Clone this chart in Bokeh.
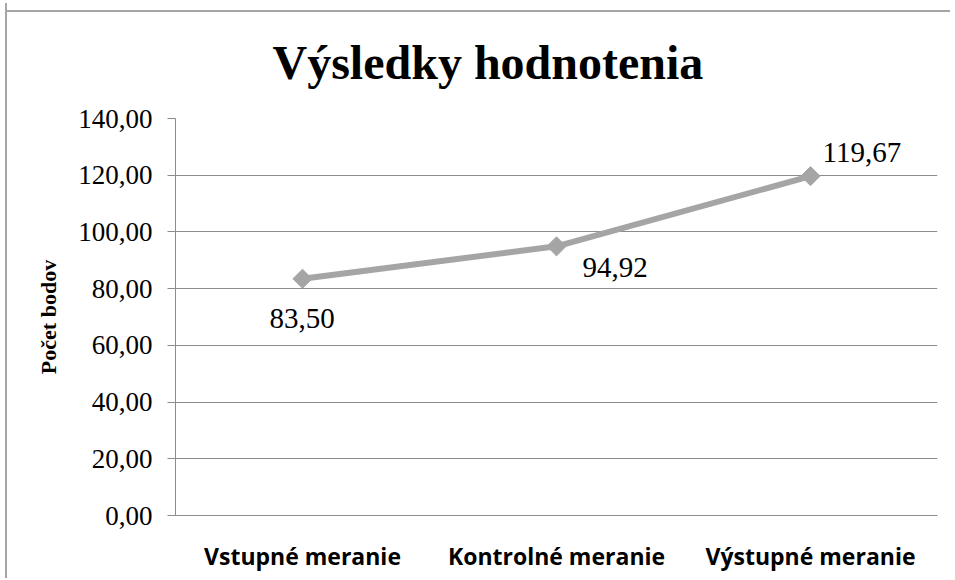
from bokeh.plotting import figure
from bokeh.models import FactorRange, Range1d, CustomJSTickFormatter, ColumnDataSource, FixedTicker
from bokeh.core.properties import value
from bokeh.embed import file_html
from bokeh.resources import INLINE
import numpy as np

# ---- data ----
categories = ["Vstupné meranie", "Kontrolné meranie", "Výstupné meranie"]
scores = [83.50, 94.92, 119.67]
y_ticks = [0, 20, 40, 60, 80, 100, 120, 140]
title_text = "Výsledky hodnotenia"
y_label = "Počet bodov"

# ---- label placement (styling, pixels) ----
label_dx = [-33, 26, 12]
label_dy = [40, 21, -24]

labels = [f"{v:.2f}".replace(".", ",") for v in scores]
src = ColumnDataSource(dict(cat=categories, val=scores, lab=labels, dx=label_dx, dy=label_dy))

SERIF = "Liberation Serif"
GRID = "#8c8c8c"
LINE = "#a5a5a5"
FRAME = "#a6a6a6"

p = figure(width=945, height=575, x_range=FactorRange(*categories, range_padding=0),
           y_range=Range1d(0, 140), output_backend="svg", toolbar_location=None,
           min_border_left=168, min_border_right=15, min_border_top=40, min_border_bottom=63,
           border_fill_color=None, background_fill_color="white")
p.styles = {"border-left": f"2px solid {FRAME}", "margin-left": "5px", "margin-top": "3px",
            "background": f"linear-gradient({FRAME},{FRAME}) 0 7px / 100% 2px no-repeat, white"}

p.title.text = title_text
p.title.text_font = SERIF
p.title.text_font_size = "48px"
p.title.text_font_style = "bold"
p.title.align = "left"
p.title.offset = 97
p.title.standoff = 60
p.title.text_color = "black"

p.outline_line_color = None
p.xgrid.grid_line_color = None
p.ygrid.grid_line_color = GRID
p.ygrid.grid_line_width = 1

p.yaxis.ticker = FixedTicker(ticks=y_ticks)
p.yaxis.formatter = CustomJSTickFormatter(code="return tick.toFixed(2).replace('.', ',');")
p.yaxis.axis_line_color = GRID
p.yaxis.major_tick_line_color = GRID
p.yaxis.major_tick_out = 8
p.yaxis.major_tick_in = 0
p.yaxis.minor_tick_line_color = None
p.yaxis.major_label_text_font = SERIF
p.yaxis.major_label_text_font_size = "27px"
p.yaxis.major_label_text_color = "black"
p.yaxis.major_label_standoff = 15
p.yaxis.axis_label = y_label
p.yaxis.axis_label_text_font = SERIF
p.yaxis.axis_label_text_font_size = "22px"
p.yaxis.axis_label_text_font_style = "bold"
p.yaxis.axis_label_text_color = "black"
p.yaxis.axis_label_standoff = 14

p.xaxis.axis_line_color = GRID
p.xaxis.major_tick_line_color = None
p.xaxis.minor_tick_line_color = None
p.xaxis.major_tick_out = 0
p.xaxis.major_label_text_font = "Open Sans"
p.xaxis.major_label_text_font_size = "23px"
p.xaxis.major_label_text_font_style = "bold"
p.xaxis.major_label_text_color = "black"
p.xaxis.major_label_standoff = 24

p.line(x="cat", y="val", source=src, line_color=LINE, line_width=6)
p.scatter(x="cat", y="val", source=src, marker="square", size=13.5, angle=np.pi / 4,
          fill_color=LINE, line_color=LINE)
p.text(x="cat", y="val", text="lab", source=src, x_offset="dx", y_offset="dy",
       text_font=value(SERIF), text_font_size="29px", text_align="left",
       text_baseline="alphabetic", text_color="black")

open("out.html", "w").write(file_html(p, INLINE))
